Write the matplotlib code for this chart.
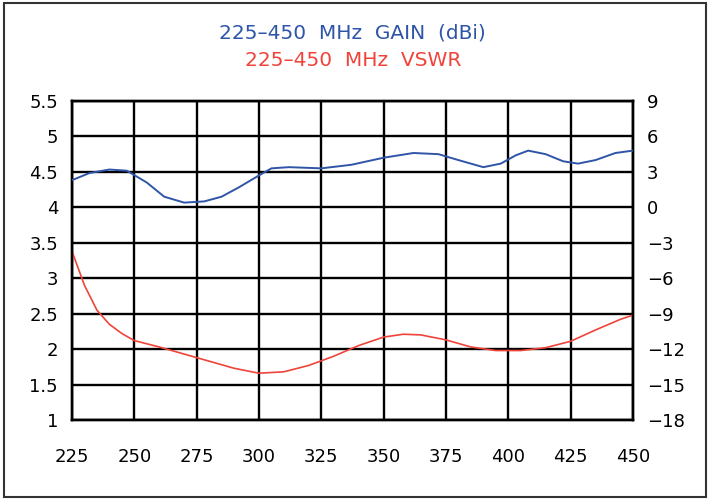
import matplotlib.pyplot as plt
import numpy as np
from matplotlib.ticker import FuncFormatter
from matplotlib.patches import Rectangle

# ── data ─────────────────────────────────────────────────────────
gain_mhz = [225, 232, 240, 247, 255, 262, 270, 278, 285, 292, 300, 305, 312,
            325, 337, 350, 362, 372, 380, 390, 397, 403, 408, 415, 422, 428,
            435, 443, 450]
gain_dbi = [2.3, 2.9, 3.2, 3.1, 2.1, 0.9, 0.4, 0.5, 0.9, 1.7, 2.7, 3.3, 3.4,
            3.3, 3.6, 4.2, 4.6, 4.5, 4.0, 3.4, 3.7, 4.4, 4.8, 4.5, 3.9, 3.7,
            4.0, 4.6, 4.8]

vswr_mhz = [225, 230, 235, 240, 245, 250, 260, 270, 280, 290, 300, 310, 320,
            330, 340, 350, 358, 365, 375, 385, 395, 405, 415, 425, 435, 445, 450]
vswr = [3.38, 2.9, 2.55, 2.35, 2.22, 2.12, 2.03, 1.93, 1.83, 1.73, 1.66, 1.68,
        1.77, 1.90, 2.05, 2.17, 2.21, 2.20, 2.13, 2.03, 1.98, 1.98, 2.02, 2.11,
        2.27, 2.42, 2.48]

x_ticks = [225, 250, 275, 300, 325, 350, 375, 400, 425, 450]
vswr_ticks = [1, 1.5, 2, 2.5, 3, 3.5, 4, 4.5, 5, 5.5]
gain_ticks = [-18, -15, -12, -9, -6, -3, 0, 3, 6, 9]

BLUE = "#2f55a8"
RED = "#f0443a"

fig = plt.figure(figsize=(7.1, 5), dpi=100)
ax = fig.add_axes([0.1014, 0.16, 0.79, 0.638])
ax2 = ax.twinx()

ax.plot(vswr_mhz, vswr, color=RED, lw=1.2, zorder=3)
ax2.plot(gain_mhz, gain_dbi, color=BLUE, lw=1.4, zorder=3)

ax.set_xlim(225, 450)
ax.set_ylim(1, 5.5)
ax2.set_ylim(-18, 9)
ax.set_xticks(x_ticks)
ax.set_yticks(vswr_ticks)
ax2.set_yticks(gain_ticks)
ax.yaxis.set_major_formatter(FuncFormatter(lambda v, p: f"{v:g}"))

ax.grid(True, color="black", lw=1.7)
for a in (ax, ax2):
    for s in a.spines.values():
        s.set_linewidth(1.7)
    a.tick_params(length=0, labelsize=13)
ax.tick_params(axis="x", pad=20)
ax.tick_params(axis="y", pad=10)
ax2.tick_params(axis="y", pad=10)

fig.text(0.497, 0.934, "225\u2013450  MHz  GAIN  (dBi)", color=BLUE,
         ha="center", va="center", fontsize=14.5)
fig.text(0.497, 0.880, "225\u2013450  MHz  VSWR", color=RED,
         ha="center", va="center", fontsize=14.5)

fig.patches.append(Rectangle((0.005, 0.006), 0.99, 0.988, transform=fig.transFigure,
                             fill=False, ec="#333333", lw=1.5))

fig.savefig("out.png", dpi=100)
